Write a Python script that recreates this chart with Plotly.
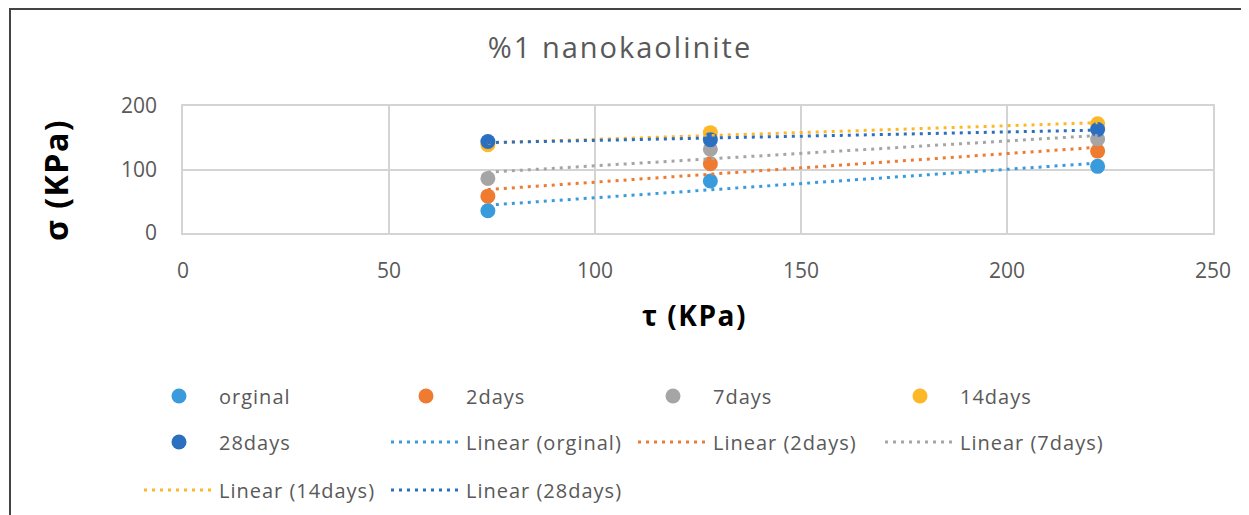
import numpy as np
import plotly.graph_objects as go

# ---- data ----
tau = [74, 128, 222]
series_names = ["orginal", "2days", "7days", "14days", "28days"]
sigma_orginal = [35, 82, 105]
sigma_2days = [58, 109, 129]
sigma_7days = [86, 132, 148]
sigma_14days = [139, 158, 172]
sigma_28days = [144, 147, 163]
colors = ["#3A9BDC", "#EE7B30", "#A5A5A5", "#FDB827", "#2B6FC0"]
x_ticks = [0, 50, 100, 150, 200, 250]
y_ticks = [0, 100, 200]
title_text = "%1 nanokaolinite"
x_title = "τ (KPa)"
y_title = "σ (KPa)"

series_values = [sigma_orginal, sigma_2days, sigma_7days, sigma_14days, sigma_28days]

FONT = "Open Sans"
GRAY_TXT = "#595959"


def spaced(t, px):
    return f'<span style="letter-spacing:{px}px">{t}</span>'


# legend rows as in the reference (10 items, 4 per row)
legend_of = ["legend", "legend", "legend", "legend", "legend2",
             "legend2", "legend2", "legend2", "legend3", "legend3"]

fig = go.Figure()
k = 0
for name, vals, col in zip(series_names, series_values, colors):
    fig.add_trace(go.Scatter(
        x=tau, y=vals, mode="markers", name=spaced(name, 1),
        marker=dict(size=15, color=col), legend=legend_of[k],
    ))
    k += 1

for name, vals, col in zip(series_names, series_values, colors):
    m, b = np.polyfit(tau, vals, 1)
    xs = [min(tau), max(tau)]
    fig.add_trace(go.Scatter(
        x=xs, y=[m * v + b for v in xs], mode="lines",
        name=spaced(f"Linear ({name})", 1),
        line=dict(color=col, width=3, dash="3px,5px"), legend=legend_of[k],
    ))
    k += 1

grid = "#D4D4D4"
W, H = 1241, 507
L, R, T, B = 175, 36, 98, 282
PW, PH = W - L - R, H - T - B


def px_x(fx):
    return (fx - L) / PW


def px_y(fy):
    return (H - B - fy) / PH


def cont_y(fy):
    return 1 - fy / H


leg_common = dict(orientation="h", xanchor="left", yanchor="middle",
                  xref="container", yref="container",
                  x=131 / W, entrywidth=162, entrywidthmode="pixels",
                  itemwidth=70, bgcolor="rgba(0,0,0,0)",
                  font=dict(family=FONT, size=20, color=GRAY_TXT))

fig.update_layout(
    width=W, height=H,
    margin=dict(l=L, r=R, t=T, b=B),
    paper_bgcolor="white", plot_bgcolor="white",
    title=dict(text=spaced(title_text, 2), x=612 / W, xanchor="center",
               y=1 - 40 / H, yanchor="middle",
               font=dict(family=FONT, size=29, color=GRAY_TXT)),
    xaxis=dict(range=[0, 250], tickvals=x_ticks, showgrid=True,
               gridcolor=grid, gridwidth=1.5, zeroline=False,
               showline=True, linecolor=grid, linewidth=1.5, mirror=True,
               ticks="", ticklabelstandoff=18,
               tickfont=dict(family=FONT, size=21, color=GRAY_TXT)),
    yaxis=dict(range=[0, 200], tickvals=y_ticks, showgrid=True,
               gridcolor=grid, gridwidth=1.5, zeroline=False,
               showline=True, linecolor=grid, linewidth=1.5, mirror=True,
               ticks="", ticklabelstandoff=20,
               tickfont=dict(family=FONT, size=21, color=GRAY_TXT)),
    legend=dict(**leg_common, y=cont_y(388)),
    legend2=dict(**leg_common, y=cont_y(434)),
    legend3=dict(**leg_common, y=cont_y(482)),
    showlegend=True,
)

fig.add_annotation(text="<b>" + spaced(x_title, 1.5) + "</b>", xref="paper", yref="paper",
                   x=px_x(686), y=px_y(307), xanchor="center", yanchor="middle",
                   showarrow=False, font=dict(family=FONT, size=28, color="black"))
fig.add_annotation(text="<b>" + spaced(y_title, 1.5) + "</b>", xref="paper", yref="paper",
                   x=px_x(47), y=px_y(172), xanchor="center", yanchor="middle",
                   textangle=-90, showarrow=False,
                   font=dict(family=FONT, size=32, color="black"))

fig.add_shape(type="rect", xref="paper", yref="paper",
              x0=px_x(2), x1=px_x(1260), y0=px_y(520), y1=px_y(1),
              line=dict(color="#444444", width=2), fillcolor="rgba(0,0,0,0)",
              layer="below")

fig.write_html("out.html")
